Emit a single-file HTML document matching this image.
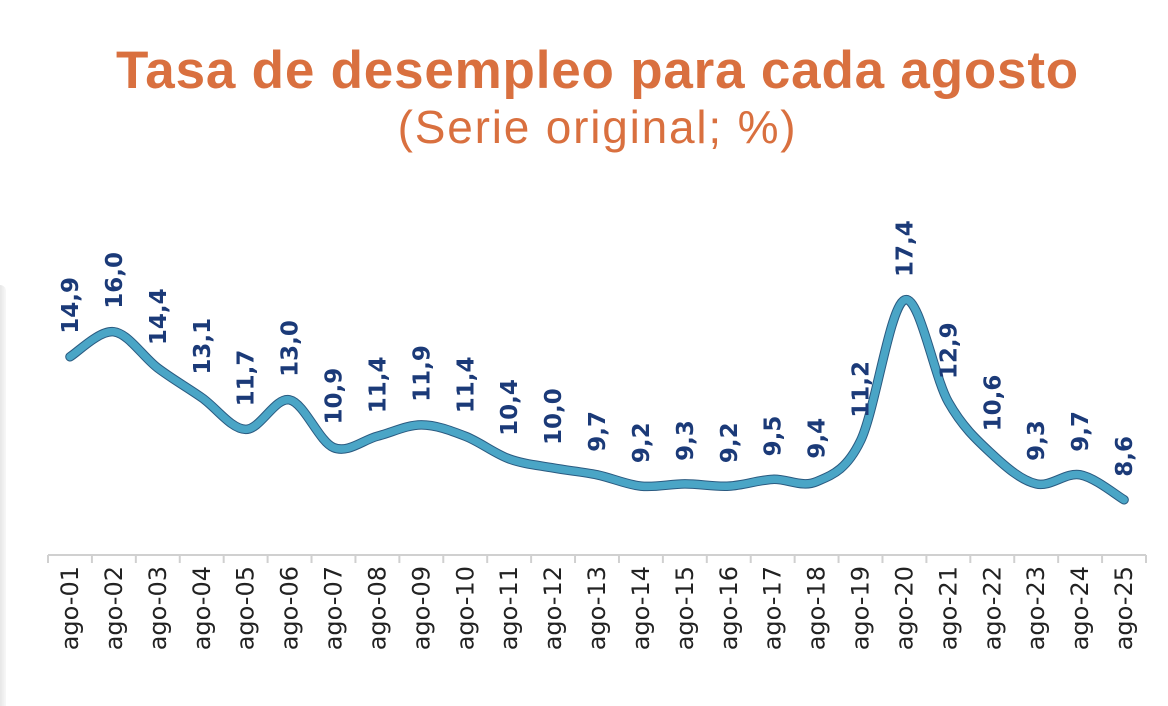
<!DOCTYPE html>
<html><head><meta charset="utf-8"><style>
body{margin:0;width:1168px;height:706px;background:#fff;overflow:hidden;position:relative;font-family:"Liberation Sans",sans-serif}
.t1{position:absolute;left:0;width:1195px;text-align:center;top:40px;font-size:53px;font-weight:bold;color:#d9703f;letter-spacing:0.8px}
.t2{position:absolute;left:0;width:1195px;text-align:center;top:100px;font-size:46px;color:#d9703f;letter-spacing:1.8px}
.edge{position:absolute;left:0;top:285px;width:6px;height:421px;background:linear-gradient(to right,#e6e6e6,#f8f8f8);border-top-right-radius:8px}
</style></head><body>
<div class="t1">Tasa de desempleo para cada agosto</div>
<div class="t2">(Serie original; %)</div>
<div class="edge"></div>
<svg id="s" width="1168" height="706" style="position:absolute;left:0;top:0"></svg>
<script>
var v=[14.9,16.0,14.4,13.1,11.7,13.0,10.9,11.4,11.9,11.4,10.4,10.0,9.7,9.2,9.3,9.2,9.5,9.4,11.2,17.4,12.9,10.6,9.3,9.7,8.6];
var lab=v.map(function(x){return x.toFixed(1).replace('.',',')});
var dx=43.92,x0=70;
function Y(a){return 300+(17.4-a)*22.7}
var p=v.map(function(a,i){return [x0+i*dx,Y(a)]});
var d='M'+p[0][0]+','+p[0][1];
for(var i=0;i<p.length-1;i++){
 var a=p[i-1]||p[i],b=p[i],c=p[i+1],e=p[i+2]||c,k=6;
 d+=' C'+(b[0]+(c[0]-a[0])/k)+','+(b[1]+(c[1]-a[1])/k)+' '+(c[0]-(e[0]-b[0])/k)+','+(c[1]-(e[1]-b[1])/k)+' '+c[0]+','+c[1];
}
var h='<line x1="48" y1="555" x2="1146" y2="555" stroke="#d0d0d0" stroke-width="2"/>';
for(var i=0;i<=25;i++){var x=48+i*dx;h+='<line x1="'+x+'" y1="555" x2="'+x+'" y2="563" stroke="#d0d0d0" stroke-width="2"/>';}
h+='<path d="'+d+'" fill="none" stroke="#2a5a80" stroke-width="9.5" stroke-linecap="round"/>';
h+='<path d="'+d+'" fill="none" stroke="#4aa5c6" stroke-width="7.5" stroke-linecap="round"/>';
p.forEach(function(q,i){
 var ly=q[1]-23;
 h+='<text transform="translate('+(q[0]+8)+','+ly+') rotate(-90)" font-family="DejaVu Sans, sans-serif" font-weight="bold" font-size="23" fill="#1b3a78">'+lab[i]+'</text>';
 var n=('0'+(i+1)).slice(-2);
 h+='<text transform="translate('+(q[0]+8)+',566) rotate(-90)" text-anchor="end" font-family="DejaVu Sans, sans-serif" font-size="24" fill="#222">ago-'+n+'</text>';
});
document.getElementById('s').innerHTML=h;
</script>
</body></html>
